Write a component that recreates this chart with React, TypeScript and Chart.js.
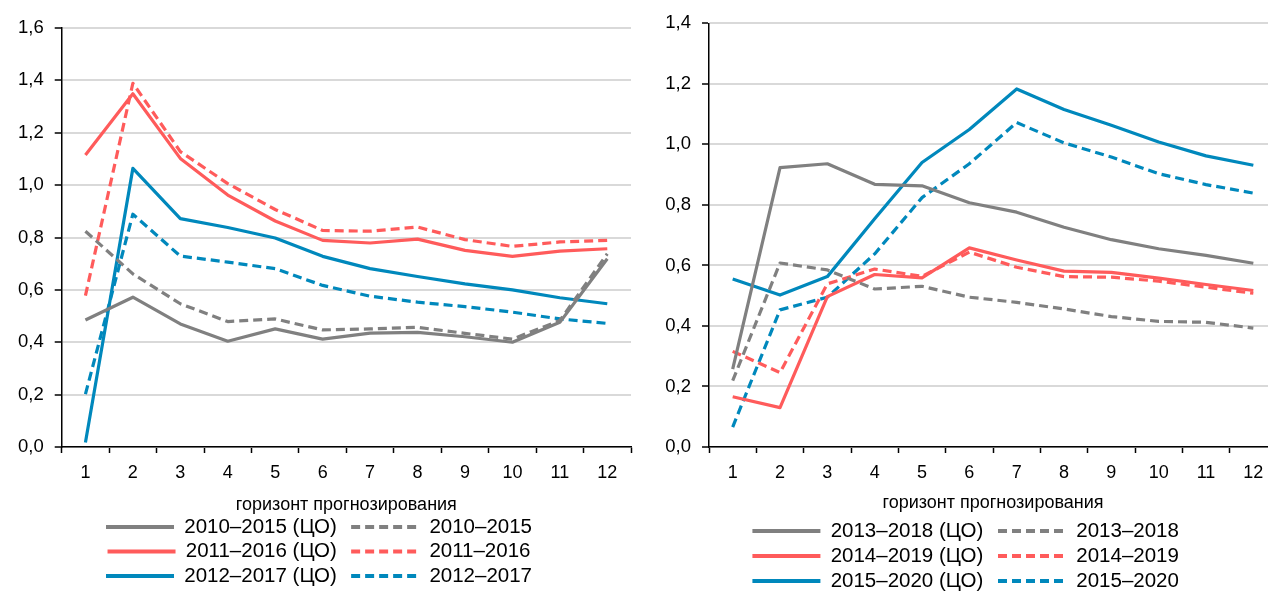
import React, { useEffect, useRef } from 'react';
import { Chart, registerables } from 'chart.js';

Chart.register(...registerables);
Chart.defaults.font.family = '"Liberation Sans", Arial, sans-serif';
Chart.defaults.color = '#000';

// ---- data ----
const horizons = ['1', '2', '3', '4', '5', '6', '7', '8', '9', '10', '11', '12'];
const axisTitle = 'горизонт прогнозирования';

// left panel
const leftLabels = ['2010–2015 (ЦО)', '2010–2015', '2011–2016 (ЦО)', '2011–2016', '2012–2017 (ЦО)', '2012–2017'];
const s2010_2015_CO = [0.485, 0.572, 0.47, 0.404, 0.451, 0.412, 0.435, 0.438, 0.421, 0.4, 0.476, 0.719];
const s2010_2015 = [0.824, 0.661, 0.547, 0.479, 0.489, 0.447, 0.451, 0.457, 0.434, 0.412, 0.483, 0.738];
const s2011_2016_CO = [1.115, 1.349, 1.102, 0.962, 0.863, 0.789, 0.779, 0.794, 0.751, 0.728, 0.748, 0.757];
const s2011_2016 = [0.578, 1.389, 1.128, 1.006, 0.907, 0.827, 0.824, 0.84, 0.792, 0.766, 0.783, 0.789];
const s2012_2017_CO = [0.017, 1.064, 0.872, 0.838, 0.798, 0.728, 0.681, 0.651, 0.623, 0.6, 0.57, 0.547];
const s2012_2017 = [0.202, 0.889, 0.729, 0.706, 0.681, 0.617, 0.576, 0.553, 0.536, 0.515, 0.489, 0.472];
const leftYMax = 1.6;

// right panel
const rightLabels = ['2013–2018 (ЦО)', '2013–2018', '2014–2019 (ЦО)', '2014–2019', '2015–2020 (ЦО)', '2015–2020'];
const s2013_2018_CO = [0.257, 0.923, 0.936, 0.868, 0.863, 0.807, 0.776, 0.726, 0.685, 0.655, 0.633, 0.607];
const s2013_2018 = [0.219, 0.608, 0.585, 0.522, 0.531, 0.495, 0.478, 0.456, 0.431, 0.415, 0.412, 0.393];
const s2014_2019_CO = [0.166, 0.13, 0.497, 0.57, 0.559, 0.658, 0.618, 0.581, 0.577, 0.558, 0.537, 0.517];
const s2014_2019 = [0.316, 0.246, 0.539, 0.588, 0.564, 0.644, 0.594, 0.563, 0.561, 0.548, 0.528, 0.508];
const s2015_2020_CO = [0.555, 0.502, 0.563, 0.754, 0.94, 1.049, 1.183, 1.115, 1.063, 1.008, 0.962, 0.931];
const s2015_2020 = [0.066, 0.453, 0.495, 0.638, 0.824, 0.936, 1.072, 1.005, 0.958, 0.903, 0.867, 0.839];
const rightYMax = 1.4;

const yStep = 0.2;

// ---- styles ----
const GRAY = '#808080';
const RED = '#ff5b5b';
const BLUE = '#0088bc';
const DASH = [9, 5];

function makeDatasets(labels: string[], series: number[][]) {
  const colors = [GRAY, GRAY, RED, RED, BLUE, BLUE];
  return series.map((data, i) => ({
    label: labels[i],
    data,
    borderColor: colors[i],
    backgroundColor: colors[i],
    borderWidth: 3.2,
    borderDash: i % 2 === 1 ? DASH : [],
    borderJoinStyle: 'round' as const,
    pointRadius: 0,
    tension: 0,
    fill: false,
  }));
}

type Layout = {
  width: number;
  height: number;
  padLeft: number;
  padRight: number;
  padTop: number;
  padBottom: number;
  titleTop: number;
  titleBottom: number;
  legendPad: number;
};

function LineChart(props: { labels: string[]; series: number[][]; yMax: number; layout: Layout }) {
  const ref = useRef<HTMLCanvasElement | null>(null);
  const { labels, series, yMax, layout } = props;
  useEffect(() => {
    if (!ref.current) return;
    const chart = new Chart(ref.current, {
      type: 'line',
      data: { labels: horizons, datasets: makeDatasets(labels, series) },
      options: {
        responsive: false,
        animation: false,
        events: [],
        devicePixelRatio: 1,
        layout: {
          padding: { left: layout.padLeft, right: layout.padRight, top: layout.padTop, bottom: layout.padBottom },
        },
        plugins: {
          tooltip: { enabled: false },
          legend: {
            display: true,
            position: 'bottom',
            labels: {
              usePointStyle: true,
              pointStyle: 'line',
              pointStyleWidth: 68,
              padding: layout.legendPad,
              color: '#000',
              font: { size: 20.5 },
              generateLabels: (c: any) => {
                const items = (Chart.defaults.plugins.legend.labels as any).generateLabels(c);
                return items.map((it: any, i: number) => ({
                  ...it,
                  lineWidth: 4,
                  strokeStyle: c.data.datasets[it.datasetIndex].borderColor,
                  lineDash: c.data.datasets[it.datasetIndex].borderDash,
                  lineCap: 'butt',
                  text: i % 2 === 0 ? it.text + '\u2002' : it.text,
                }));
              },
            },
          },
        },
        scales: {
          x: {
            type: 'category',
            offset: true,
            grid: {
              offset: true,
              drawOnChartArea: false,
              drawTicks: true,
              tickLength: 6,
              tickColor: '#000',
              tickWidth: 1.5,
              color: '#000',
            },
            border: { color: '#000', width: 1.5 },
            ticks: { font: { size: 18 }, color: '#000', padding: 9, maxRotation: 0, autoSkip: false },
            title: {
              display: true,
              text: axisTitle,
              color: '#000',
              font: { size: 18, lineHeight: 0.8 },
              padding: { top: layout.titleTop, bottom: layout.titleBottom },
            },
          },
          y: {
            min: 0,
            max: yMax,
            ticks: {
              stepSize: yStep,
              font: { size: 18.5 },
              color: '#000',
              padding: 11,
              callback: (v: any) => Number(v).toFixed(1).replace('.', ','),
            },
            grid: {
              color: '#d9d9d9',
              lineWidth: 2,
              drawTicks: true,
              tickLength: 7,
              tickColor: '#000',
              tickWidth: 1.5,
            },
            border: { color: '#000', width: 1.5 },
          },
        },
      },
    } as any);
    return () => chart.destroy();
  }, [labels, series, yMax, layout]);
  return <canvas ref={ref} width={layout.width} height={layout.height} style={{ display: 'block' }} />;
}

const leftSeries = [s2010_2015_CO, s2010_2015, s2011_2016_CO, s2011_2016, s2012_2017_CO, s2012_2017];
const rightSeries = [s2013_2018_CO, s2013_2018, s2014_2019_CO, s2014_2019, s2015_2020_CO, s2015_2020];

const leftLayout: Layout = {
  width: 640, height: 600, padLeft: 7, padRight: 9, padTop: 28, padBottom: 3.8,
  titleTop: 5.7, titleBottom: 0, legendPad: 4,
};
const rightLayout: Layout = {
  width: 646, height: 605, padLeft: 14.3, padRight: 9, padTop: 23.3, padBottom: 3.8,
  titleTop: 3.6, titleBottom: 5.6, legendPad: 4.5,
};

export default function App() {
  return (
    <div style={{ position: 'fixed', left: 0, top: 0, width: 1268, height: 591, overflow: 'hidden', background: '#fff' }}>
      <div style={{ position: 'absolute', left: 0, top: 0 }}>
        <LineChart labels={leftLabels} series={leftSeries} yMax={leftYMax} layout={leftLayout} />
      </div>
      <div style={{ position: 'absolute', left: 640, top: 0 }}>
        <LineChart labels={rightLabels} series={rightSeries} yMax={rightYMax} layout={rightLayout} />
      </div>
    </div>
  );
}
